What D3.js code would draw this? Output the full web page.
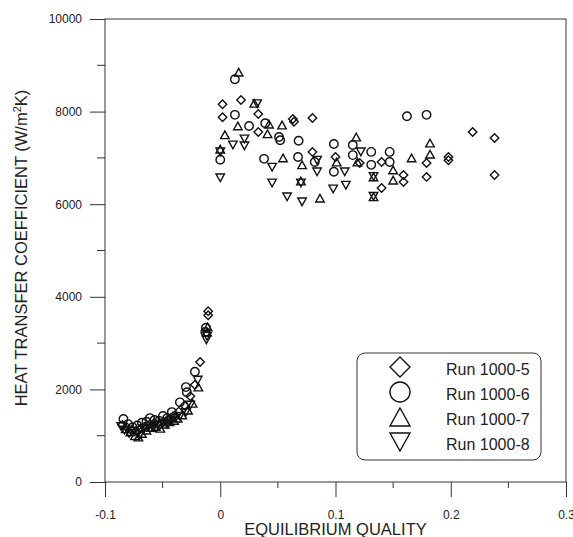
<!DOCTYPE html>
<html>
<head>
<meta charset="utf-8">
<script src="https://cdn.jsdelivr.net/npm/d3@7"></script>
<style>
  html, body { margin: 0; padding: 0; background: #fff; }
  svg { display: block; font-family: "Liberation Sans", Arial, sans-serif; }
</style>
</head>
<body>
<svg id="chart" width="573" height="537"></svg>
<script>
// Heat transfer coefficient vs. equilibrium quality, four runs
const seriesNames = ["Run 1000-5", "Run 1000-6", "Run 1000-7", "Run 1000-8"];
const seriesShapes = ["diamond", "circle", "triangleUp", "triangleDown"];

// [quality, h (W/m2K)]
const run5 = [
  [-0.085,1230],[-0.081,1180],[-0.077,1120],[-0.073,1100],[-0.069,1150],[-0.065,1200],
  [-0.061,1250],[-0.057,1280],[-0.053,1220],[-0.049,1300],[-0.045,1350],[-0.041,1420],
  [-0.036,1520],[-0.031,1650],[-0.026,1850],[-0.022,2100],[-0.0175,2590],[-0.0105,3600],
  [-0.0105,3690],
  [0.002,8160],[0.018,8250],[0.002,7880],[0.033,7950],[0.033,7560],[0.063,7840],
  [0.064,7780],[0.080,7860],[0.080,7130],[0.100,7020],[0.121,6890],[0.140,6910],
  [0.140,6350],[0.159,6630],[0.159,6480],[0.179,6890],[0.179,6590],[0.198,7020],
  [0.198,6950],[0.219,7560],[0.238,7430],[0.238,6630]
];
const run6 = [
  [-0.084,1360],[-0.080,1250],[-0.076,1180],[-0.072,1220],[-0.068,1280],[-0.064,1300],
  [-0.061,1380],[-0.057,1340],[-0.053,1320],[-0.0497,1425],[-0.046,1380],[-0.042,1510],
  [-0.035,1720],[-0.0298,2050],[-0.029,1940],[-0.022,2380],[-0.0124,3330],[-0.013,3240],
  [0.0127,8700],[0.0127,7930],[0.025,7690],[0.039,7750],[0.0,6960],[0.038,6980],
  [0.051,7450],[0.052,7380],[0.068,7370],[0.0675,7020],[0.082,6910],[0.0986,7300],
  [0.0986,6700],[0.115,7280],[0.115,7060],[0.131,7130],[0.131,6850],[0.147,7130],
  [0.147,6910],[0.162,7900],[0.179,7930]
];
const run7 = [
  [-0.082,1150],[-0.078,1080],[-0.074,1000],[-0.071,970],[-0.068,1050],[-0.064,1120],
  [-0.060,1180],[-0.056,1200],[-0.052,1160],[-0.048,1250],[-0.044,1300],[-0.040,1330],
  [-0.037,1380],[-0.033,1450],[-0.028,1550],[-0.024,1700],[-0.019,2050],[-0.011,3350],
  [-0.0115,3240],
  [0.016,8850],[0.0295,8180],[0.0153,7690],[0.0423,7730],[0.0536,7710],[0.041,7520],
  [0.004,7500],[0.0,7190],[0.0545,7000],[0.071,6850],[0.070,6500],[0.0865,6130],
  [0.101,6910],[0.118,7450],[0.119,6910],[0.133,6590],[0.133,6160],[0.150,6740],
  [0.150,6520],[0.166,7000],[0.182,7320],[0.182,7080]
];
const run8 = [
  [-0.086,1200],[-0.083,1120],[-0.079,1050],[-0.075,1100],[-0.070,1000],[-0.066,1150],
  [-0.062,1200],[-0.058,1180],[-0.054,1230],[-0.050,1270],[-0.046,1250],[-0.043,1320],
  [-0.039,1380],[-0.035,1420],[-0.030,1500],[-0.026,1660],[-0.0195,2200],[-0.012,3070],
  [-0.0115,3150],
  [0.032,8170],[0.0,7130],[0.0,6570],[0.011,7280],[0.021,7410],[0.021,7260],
  [0.045,6800],[0.045,6460],[0.058,6160],[0.071,6050],[0.070,6460],[0.084,6950],
  [0.084,6700],[0.098,6330],[0.109,6410],[0.108,6700],[0.122,7130],[0.133,6600],
  [0.133,6170]
];
const seriesData = [run5, run6, run7, run8];

const xMajorTicks = [-0.1, 0, 0.1, 0.2, 0.3];
const xTickLabels = ["-0.1", "0", "0.1", "0.2", "0.3"];
const xMinorTicks = [-0.05, 0.05, 0.15, 0.25];
const yMajorTicks = [0, 2000, 4000, 6000, 8000, 10000];
const yMinorTicks = [1000, 3000, 5000, 7000, 9000];

const svg = d3.select("#chart");
const L = 105, R = 566, T = 19, B = 482;
const x = d3.scaleLinear().domain([-0.1, 0.3]).range([L, R]);
const y = d3.scaleLinear().domain([0, 10000]).range([B, T]);
const axisColor = "#333";

// marker path centred at 0,0; s = overall width
function shapePath(kind, s) {
  const r = s / 2;
  const p = d3.path();
  if (kind === "circle") {
    p.moveTo(r, 0); p.arc(0, 0, r, 0, 2 * Math.PI);
  } else if (kind === "diamond") {
    p.moveTo(0, -r); p.lineTo(r, 0); p.lineTo(0, r); p.lineTo(-r, 0); p.closePath();
  } else if (kind === "triangleUp") {
    const h = s * 0.9;
    p.moveTo(0, -h / 2); p.lineTo(r, h / 2); p.lineTo(-r, h / 2); p.closePath();
  } else {
    const h = s * 0.9;
    p.moveTo(0, h / 2); p.lineTo(r, -h / 2); p.lineTo(-r, -h / 2); p.closePath();
  }
  return p.toString();
}

// frame
svg.append("rect").attr("x", L).attr("y", T).attr("width", R - L).attr("height", B - T)
  .attr("fill", "none").attr("stroke", axisColor).attr("stroke-width", 1);

// y axis ticks and labels
const yAxis = d3.axisLeft(y).tickValues(yMajorTicks).tickSize(15).tickSizeOuter(0)
  .tickFormat(d3.format("d"));
const gy = svg.append("g").attr("transform", `translate(${L},0)`).call(yAxis);
gy.select(".domain").remove();
gy.selectAll(".tick line").attr("stroke", axisColor);
gy.selectAll(".tick text").attr("x", -23).attr("font-size", 12)
  .attr("font-family", "Liberation Sans, Arial, sans-serif").attr("fill", "#222");
svg.append("g").selectAll("line").data(yMinorTicks).join("line")
  .attr("x1", L - 8).attr("x2", L).attr("y1", d => y(d)).attr("y2", d => y(d))
  .attr("stroke", axisColor);

// x axis ticks and labels
const xAxis = d3.axisBottom(x).tickValues(xMajorTicks).tickSize(15).tickSizeOuter(0)
  .tickFormat((d, i) => xTickLabels[i]);
const gx = svg.append("g").attr("transform", `translate(0,${B})`).call(xAxis);
gx.select(".domain").remove();
gx.selectAll(".tick line").attr("stroke", axisColor);
gx.selectAll(".tick text").attr("y", 28).attr("font-size", 12)
  .attr("font-family", "Liberation Sans, Arial, sans-serif").attr("fill", "#222");
svg.append("g").selectAll("line").data(xMinorTicks).join("line")
  .attr("x1", d => x(d)).attr("x2", d => x(d)).attr("y1", B).attr("y2", B + 6)
  .attr("stroke", axisColor);

// axis titles
svg.append("text").attr("x", (L + R) / 2).attr("y", 535).attr("text-anchor", "middle")
  .attr("font-size", 16.5).attr("fill", "#222").text("EQUILIBRIUM QUALITY");
const yt = svg.append("text").attr("transform", "translate(27,248) rotate(-90)")
  .attr("text-anchor", "middle").attr("font-size", 16.5).attr("fill", "#222");
yt.append("tspan").text("HEAT TRANSFER COEFFICIENT (W/m");
yt.append("tspan").attr("font-size", 11).attr("dy", -6).text("2");
yt.append("tspan").attr("dy", 6).text("K)");

// data markers
seriesData.forEach((data, i) => {
  svg.append("g").selectAll("path").data(data).join("path")
    .attr("transform", d => `translate(${x(d[0])},${y(d[1])})`)
    .attr("d", shapePath(seriesShapes[i], 8.5))
    .attr("fill", "none").attr("stroke", "#111").attr("stroke-width", 1.4);
});

// legend
const lg = svg.append("g");
lg.append("rect").attr("x", 357).attr("y", 353).attr("width", 184).attr("height", 107)
  .attr("rx", 8).attr("ry", 8).attr("fill", "#fff").attr("stroke", axisColor);
const rowY = [369, 394, 419, 444];
seriesNames.forEach((name, i) => {
  lg.append("path").attr("transform", `translate(400,${rowY[i] - 2})`)
    .attr("d", shapePath(seriesShapes[i], 20))
    .attr("fill", "none").attr("stroke", "#111").attr("stroke-width", 1.4);
  lg.append("text").attr("x", 446).attr("y", rowY[i] + 6).attr("font-size", 16)
    .attr("fill", "#222").text(name);
});
</script>
</body>
</html>
